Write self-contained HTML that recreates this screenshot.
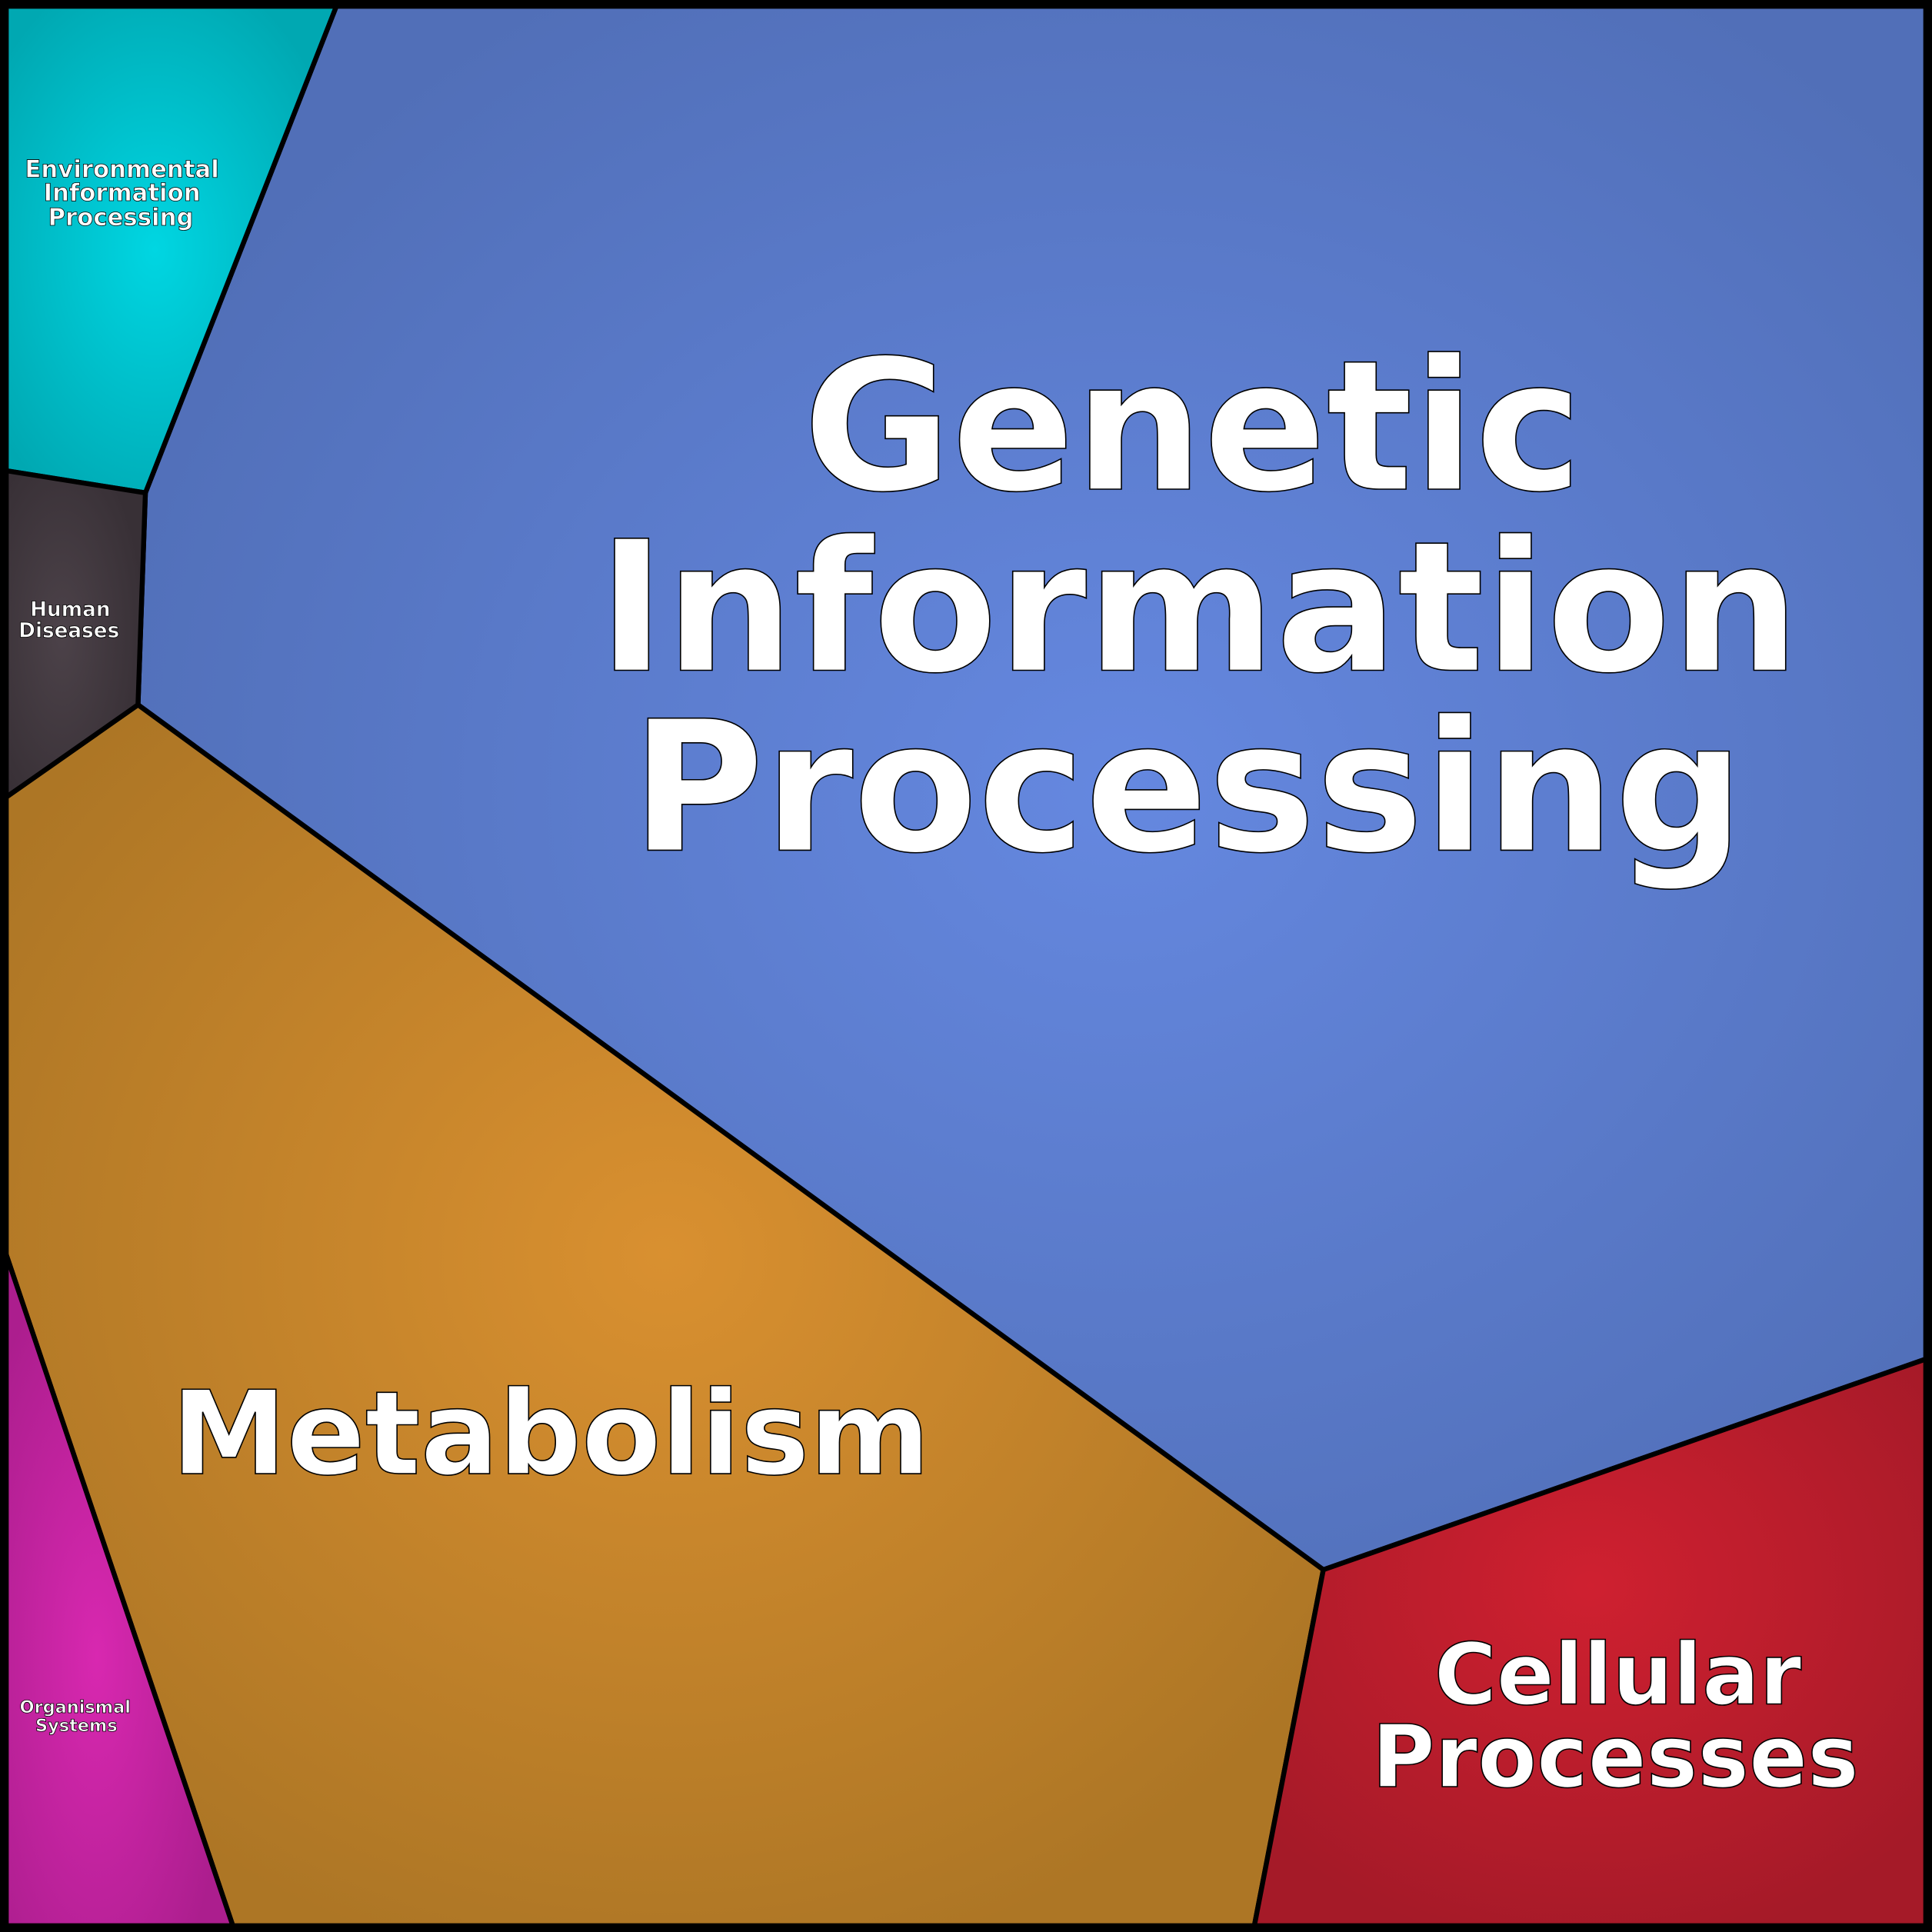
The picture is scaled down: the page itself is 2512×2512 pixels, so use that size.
<!DOCTYPE html>
<html><head><meta charset="utf-8"><style>
html,body{margin:0;padding:0;background:#000}
svg{display:block}
text{font-family:"DejaVu Sans","Liberation Sans",sans-serif;font-weight:bold;fill:#fff;stroke:#000;text-anchor:middle}
</style></head><body>
<svg width="2512" height="2512" viewBox="0 0 1568 1568" xmlns="http://www.w3.org/2000/svg">
<defs>
<radialGradient id="gb" cx="0.55" cy="0.5" r="0.6"><stop offset="0" stop-color="#6588e0"/><stop offset="1" stop-color="#516fb8"/></radialGradient>
<radialGradient id="go" cx="0.5" cy="0.45" r="0.6"><stop offset="0" stop-color="#d99030"/><stop offset="1" stop-color="#ad7625"/></radialGradient>
<radialGradient id="gr" cx="0.5" cy="0.4" r="0.65"><stop offset="0" stop-color="#cf2030"/><stop offset="1" stop-color="#a51a28"/></radialGradient>
<radialGradient id="gc" cx="0.45" cy="0.5" r="0.6"><stop offset="0" stop-color="#00d6e2"/><stop offset="1" stop-color="#00a8b2"/></radialGradient>
<radialGradient id="gd" cx="0.4" cy="0.5" r="0.6"><stop offset="0" stop-color="#4c4249"/><stop offset="1" stop-color="#383036"/></radialGradient>
<radialGradient id="gm" cx="0.4" cy="0.6" r="0.6"><stop offset="0" stop-color="#d828b0"/><stop offset="1" stop-color="#ac1e8e"/></radialGradient>
</defs>
<rect x="0" y="0" width="1568" height="1568" fill="#000"/>
<g stroke="#000" stroke-width="4" stroke-linejoin="round">
<polygon fill="url(#gb)" points="273,5 1563,5 1563,1103 1074,1274 112,572 118,400"/>
<polygon fill="url(#go)" points="5,647 112,572 1074,1274 1018,1563 189,1563 5,1018"/>
<polygon fill="url(#gr)" points="1074,1274 1563,1103 1563,1563 1018,1563"/>
<polygon fill="url(#gc)" points="5,5 273,5 118,400 5,382"/>
<polygon fill="url(#gd)" points="5,382 118,400 112,572 5,647"/>
<polygon fill="url(#gm)" points="5,1018 189,1563 5,1563"/>
</g>
<rect x="3.5" y="3.5" width="1561" height="1561" fill="none" stroke="#000" stroke-width="7"/>
<g stroke-width="1">
<text x="968" y="397" font-size="147">Genetic</text>
<text x="973" y="544" font-size="147">Information</text>
<text x="964" y="690" font-size="147">Processing</text>
<text x="447" y="1196" font-size="94">Metabolism</text>
<text x="1313" y="1383" font-size="69">Cellular</text>
<text x="1311" y="1450" font-size="70">Processes</text>
</g>
<g stroke-width="0.5">
<text x="99" y="144" font-size="19.2">Environmental</text>
<text x="99" y="163" font-size="19.2">Information</text>
<text x="98" y="183" font-size="19.2">Processing</text>
<text x="57" y="500" font-size="16.4">Human</text>
<text x="56" y="517" font-size="16.4">Diseases</text>
<text x="61" y="1390" font-size="14">Organismal</text>
<text x="62" y="1405" font-size="14">Systems</text>
</g>
</svg>
</body></html>
